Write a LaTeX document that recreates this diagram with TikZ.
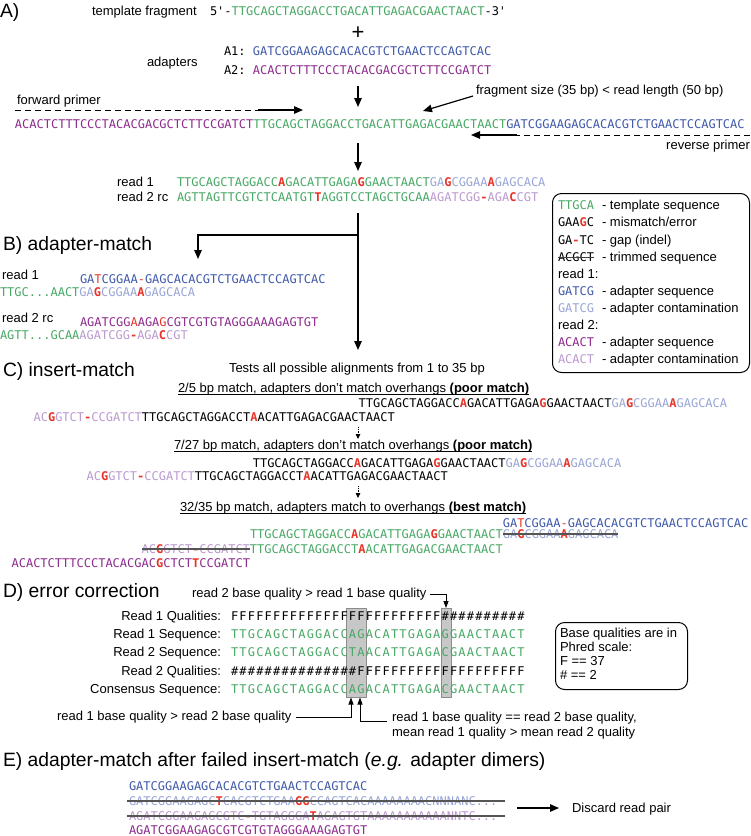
\documentclass[tikz,border=0pt]{standalone}
\usepackage{fontspec}
\setmainfont{Liberation Sans}
\setmonofont{DejaVu Sans Mono}
\newfontfamily\dseqf[LetterSpace=10]{DejaVu Sans Mono}
\usetikzlibrary{arrows.meta}
\definecolor{tg}{RGB}{70,168,100}
\definecolor{ab}{RGB}{62,88,170}
\definecolor{alb}{RGB}{152,164,214}
\definecolor{ap}{RGB}{140,42,140}
\definecolor{alp}{RGB}{186,152,206}
\definecolor{er}{RGB}{232,52,40}
\definecolor{stk}{RGB}{85,85,85}
\newcommand{\Rb}[1]{{\bfseries\color{er}#1}}
\newcommand{\Rn}[1]{{\color{er}#1}}
\begin{document}
\begin{tikzpicture}[x=1pt,y=-1pt,
  seqs/.style={font=\ttfamily\fontsize{12}{14}\selectfont, anchor=base west, inner sep=0pt, outer sep=0pt},
  dseqs/.style={font=\dseqf\fontsize{12}{14}\selectfont, anchor=base west, inner sep=0pt, outer sep=0pt},
  lab/.style={font=\fontsize{13}{15}\selectfont, anchor=base west, inner sep=0pt, outer sep=0pt},
  hdr/.style={font=\fontsize{19.3}{22}\selectfont, anchor=base west, inner sep=0pt, outer sep=0pt},
  arr/.style={draw=black, line width=1.2pt, -{Triangle[length=9pt,width=7.5pt]}},
  darr/.style={draw=black, line width=0.8pt, -{Triangle[length=7pt,width=5pt]}},
  sarr/.style={draw=black, line width=0.8pt, densely dotted, -{Triangle[length=5pt,width=4.5pt]}},
  prim/.style={draw=black, line width=1pt, dash pattern=on 6pt off 4pt},
  strike/.style={draw=stk, line width=1.8pt},
  uline/.style={draw=black, line width=0.8pt},
  lbox/.style={draw=black, line width=1pt, rounded corners=9pt, inner sep=0pt, anchor=north west},
  gbox/.style={draw=black!45, fill=black!22, line width=0.8pt, inner sep=0pt, anchor=north west}
]
\useasboundingbox (0,0) rectangle (751,836);

% ---------------- A ----------------
\node[hdr] (hA) at (0,17) {A)};
\node[lab] (ltf) at (92,15.5) {template fragment};
\node[seqs] (tf) at (210,15.5) {5'-\textcolor{tg}{TTGCAGCTAGGACCTGACATTGAGACGAACTAACT}-3'};
\node[font=\fontsize{22}{22}\selectfont, inner sep=0pt] (plus) at (358,33) {+};
\node[seqs] (a1) at (224,55.5) {A1: \textcolor{ab}{GATCGGAAGAGCACACGTCTGAACTCCAGTCAC}};
\node[lab] (ladp) at (147,66.5) {adapters};
\node[seqs] (a2) at (224,74.5) {A2: \textcolor{ap}{ACACTCTTTCCCTACACGACGCTCTTCCGATCT}};
\coordinate (ar1s) at (358,86);
\coordinate (ar1e) at (358,107);
\draw[arr] (ar1s) -- (ar1e);

\node[lab] (lfp) at (17,104.5) {forward primer};
\coordinate (fp0) at (15,110);
\coordinate (fp1) at (258,110);
\coordinate (fp2) at (303,110);
\draw[prim] (fp0) -- (fp1);
\draw[arr] (fp1) -- (fp2);

\node[lab] (lfs) at (476,94.5) {fragment size (35 bp) < read length (50 bp)};
\coordinate (fs0) at (473,96);
\coordinate (fs1) at (423,111);
\draw[arr] (fs0) -- (fs1);

\node[seqs] (lng) at (15,128.5) {\textcolor{ap}{ACACTCTTTCCCTACACGACGCTCTTCCGATCT}\textcolor{tg}{TTGCAGCTAGGACCTGACATTGAGACGAACTAACT}\textcolor{ab}{GATCGGAAGAGCACACGTCTGAACTCCAGTCAC}};

\coordinate (rp0) at (750,135);
\coordinate (rp1) at (517,135);
\coordinate (rp2) at (471,135);
\draw[prim] (rp0) -- (rp1);
\draw[arr] (rp1) -- (rp2);
\node[lab, anchor=base east] (lrp) at (750,149.5) {reverse primer};

\coordinate (ar2s) at (358,143);
\coordinate (ar2e) at (358,171);
\draw[arr] (ar2s) -- (ar2e);

\node[lab] (lr1) at (117,186.5) {read 1};
\node[lab] (lr2) at (117,201.5) {read 2 rc};
\node[seqs, text=tg] (r1) at (177,186.5) {TTGCAGCTAGGACC\Rb{A}GACATTGAGA\Rb{G}GAACTAACT\textcolor{alb}{GA\Rb{G}CGGAA\Rb{A}GAGCACA}};
\node[seqs, text=tg] (r2) at (177,201.5) {AGTTAGTTCGTCTCAATGT\Rb{T}AGGTCCTAGCTGCAA\textcolor{alp}{AGATCGG\Rb{-}AGA\Rb{C}CGT}};

% ---------------- legend ----------------
\node[lbox, minimum width=197pt, minimum height=179pt] (leg) at (552,193) {};
\node[seqs, text=tg] (k1) at (558,209.5) {TTGCA};
\node[lab] (k1t) at (602,209.5) {- template sequence};
\node[seqs] (k2) at (558,226.5) {GAA\Rb{G}C};
\node[lab] (k2t) at (602,226.5) {- mismatch/error};
\node[seqs] (k3) at (558,244) {GA\Rb{-}TC};
\node[lab] (k3t) at (602,244) {- gap (indel)};
\node[seqs] (k4) at (558,261.5) {ACGCT};
\draw[strike, draw=black!75, line width=1.2pt] ([yshift=4.3pt]k4.base west) -- ([yshift=4.3pt]k4.base east);
\node[lab] (k4t) at (602,261.5) {- trimmed sequence};
\node[lab] (k5) at (558,278.5) {read 1:};
\node[seqs, text=ab] (k6) at (558,295.5) {GATCG};
\node[lab] (k6t) at (602,295.5) {- adapter sequence};
\node[seqs, text=alb] (k7) at (558,312.5) {GATCG};
\node[lab] (k7t) at (602,312.5) {- adapter contamination};
\node[lab] (k8) at (558,329.5) {read 2:};
\node[seqs, text=ap] (k9) at (558,346.5) {ACACT};
\node[lab] (k9t) at (602,346.5) {- adapter sequence};
\node[seqs, text=alp] (k10) at (558,363.5) {ACACT};
\node[lab] (k10t) at (602,363.5) {- adapter contamination};

% ---------------- B ----------------
\coordinate (vb0) at (358,213);
\coordinate (vbr) at (358,235);
\coordinate (vb1) at (358,350);
\coordinate (bl0) at (198,235);
\coordinate (bl1) at (198,259);
\draw[arr] (vb0) -- (vb1);
\draw[arr] (vbr) -- (bl0) -- (bl1);

\node[hdr] (hB) at (3,250) {B) adapter-match};
\node[lab] (lb1) at (2,279) {read 1};
\node[seqs, text=ab] (b1a) at (80,283.5) {GA\Rn{T}CGGAA\Rn{-}GAGCACACGTCTGAACTCCAGTCAC};
\node[seqs, text=tg] (b1r) at (0,296.5) {TTGC...AACT\textcolor{alb}{GA\Rb{G}CGGAA\Rb{A}GAGCACA}};
\node[lab] (lb2) at (2,322.5) {read 2 rc};
\node[seqs, text=ap] (b2a) at (80,326.5) {AGATCGG\Rn{A}AGA\Rn{G}CGTCGTGTAGGGAAAGAGTGT};
\node[seqs, text=tg] (b2r) at (0,339.5) {AGTT...GCAA\textcolor{alp}{AGATCGG\Rb{-}AGA\Rb{C}CGT}};

% ---------------- C ----------------
\node[hdr] (hC) at (3,376) {C) insert-match};
\node[lab] (ltest) at (229,372.5) {Tests all possible alignments from 1 to 35 bp};

\node[lab] (m1) at (178,392.5) {2/5 bp match, adapters don’t match overhangs \textbf{(poor match)}};
\draw[uline] ([yshift=-2pt]m1.base west) -- ([yshift=-2pt]m1.base east);
\node[seqs] (c1a) at (358.7,407.5) {TTGCAGCTAGGACC\Rb{A}GACATTGAGA\Rb{G}GAACTAACT\textcolor{alb}{GA\Rb{G}CGGAA\Rb{A}GAGCACA}};
\node[seqs] (c1b) at (33.6,421.5) {\textcolor{alp}{AC\Rb{G}GTCT\Rb{-}CCGATCT}TTGCAGCTAGGACCT\Rb{A}ACATTGAGACGAACTAACT};
\coordinate (s1a) at (358,427);
\coordinate (s1b) at (358,439);
\draw[sarr] (s1a) -- (s1b);

\node[lab] (m2) at (174,449.5) {7/27 bp match, adapters don’t match overhangs \textbf{(poor match)}};
\draw[uline] ([yshift=-2pt]m2.base west) -- ([yshift=-2pt]m2.base east);
\node[seqs] (c2a) at (252.8,467.5) {TTGCAGCTAGGACC\Rb{A}GACATTGAGA\Rb{G}GAACTAACT\textcolor{alb}{GA\Rb{G}CGGAA\Rb{A}GAGCACA}};
\node[seqs] (c2b) at (86.6,480.5) {\textcolor{alp}{AC\Rb{G}GTCT\Rb{-}CCGATCT}TTGCAGCTAGGACCT\Rb{A}ACATTGAGACGAACTAACT};
\coordinate (s2a) at (358,486);
\coordinate (s2b) at (358,498);
\draw[sarr] (s2a) -- (s2b);

\node[lab] (m3) at (180,511) {32/35 bp match, adapters match to overhangs \textbf{(best match)}};
\draw[uline] ([yshift=-2pt]m3.base west) -- ([yshift=-2pt]m3.base east);
\node[seqs, text=ab] (c3ad) at (502.8,527.5) {GA\Rn{T}CGGAA\Rn{-}GAGCACACGTCTGAACTCCAGTCAC};
\node[seqs, text=tg] (c3r1) at (250,538.5) {TTGCAGCTAGGACC\Rb{A}GACATTGAGA\Rb{G}GAACTAACT};
\node[seqs, text=alb, anchor=base west] (c3r1t) at (c3r1.base east) {GA\Rb{G}CGGAA\Rb{A}GAGCACA};
\draw[strike] ([yshift=4.3pt]c3r1t.base west) -- ([yshift=4.3pt]c3r1t.base east);
\node[seqs, text=alp] (c3r2t) at (141.6,553.5) {AC\Rb{G}GTCT\Rb{-}CCGATCT};
\draw[strike] ([yshift=4.3pt]c3r2t.base west) -- ([yshift=4.3pt]c3r2t.base east);
\node[seqs, text=tg, anchor=base west] (c3r2) at (c3r2t.base east) {TTGCAGCTAGGACCT\Rb{A}ACATTGAGACGAACTAACT};
\node[seqs, text=ap] (c3a2) at (11.6,567.5) {ACACTCTTTCCCTACACGAC\Rb{G}CTCT\Rb{T}CCGATCT};

% ---------------- D ----------------
\node[hdr] (hD) at (3,597) {D) error correction};
\node[gbox, minimum width=20pt, minimum height=89pt] (gb1) at (346,608) {};
\node[gbox, minimum width=9.5pt, minimum height=89pt] (gb2) at (441,608) {};

\node[lab] (dq21) at (192,597.5) {read 2 base quality > read 1 base quality};
\coordinate (d2e) at (446,608);
\draw[darr] ([xshift=3pt]dq21.east) -| (d2e);

\node[lab, anchor=base east] (dl1) at (221,620.5) {Read 1 Qualities:};
\node[dseqs] (ds1) at (231,620.5) {FFFFFFFFFFFFFFFFFFFFFFFFF\#\#\#\#\#\#\#\#\#\#};
\node[lab, anchor=base east] (dl2) at (221,638.7) {Read 1 Sequence:};
\node[dseqs, text=tg] (ds2) at (231,638.7) {TTGCAGCTAGGACCAGACATTGAGAGGAACTAACT};
\node[lab, anchor=base east] (dl3) at (221,656.9) {Read 2 Sequence:};
\node[dseqs, text=tg] (ds3) at (231,656.9) {TTGCAGCTAGGACCTAACATTGAGACGAACTAACT};
\node[lab, anchor=base east] (dl4) at (221,675.1) {Read 2 Qualities:};
\node[dseqs] (ds4) at (231,675.1) {\#\#\#\#\#\#\#\#\#\#\#\#\#\#\#FFFFFFFFFFFFFFFFFFFF};
\node[lab, anchor=base east] (dl5) at (221,693.3) {Consensus Sequence:};
\node[dseqs, text=tg] (ds5) at (231,693.3) {TTGCAGCTAGGACCAGACATTGAGACGAACTAACT};

\node[lbox, minimum width=132pt, minimum height=67pt] (dleg) at (555,622) {};
\node[lab] (dlg1) at (560,637.5) {Base qualities are in};
\node[lab] (dlg2) at (560,651.5) {Phred scale:};
\node[lab] (dlg3) at (560,665.5) {F == 37};
\node[lab] (dlg4) at (560,679.5) {\# == 2};

\node[lab] (dq12) at (57,720.5) {read 1 base quality > read 2 base quality};
\coordinate (d1e) at (351,697.5);
\draw[darr] ([xshift=4pt]dq12.east) -| (d1e);
\node[lab] (dq3) at (392,721.5) {read 1 base quality == read 2 base quality,};
\node[lab] (dq4) at (392,736.5) {mean read 1 quality > mean read 2 quality};
\coordinate (d3s) at (387,721);
\coordinate (d3e) at (360,697.5);
\draw[darr] (d3s) -| (d3e);

% ---------------- E ----------------
\node[hdr] (hE) at (3,766) {E) adapter-match after failed insert-match (\textit{e.g.} adapter dimers)};
\node[seqs, text=ab] (e1) at (129,790.5) {GATCGGAAGAGCACACGTCTGAACTCCAGTCAC};
\node[seqs, text=alb] (e2) at (129,805.5) {GATCGGAAGAGC\Rb{T}CACGTCTGAA\Rb{GG}CCAGTCACAAAAAAAACNNNANC...};
\draw[strike] ([xshift=-2pt,yshift=4.3pt]e2.base west) -- ([xshift=8pt,yshift=4.3pt]e2.base east);
\node[seqs, text=alp] (e3) at (129,820.5) {AGATCGGAAGAGCGTC\Rb{-}TGTAGGGA\Rb{T}AGAGTGTAAAAAAAAAAANNTC...};
\draw[strike] ([xshift=-2pt,yshift=4.3pt]e3.base west) -- ([xshift=8pt,yshift=4.3pt]e3.base east);
\node[seqs, text=ap] (e4) at (129,834.5) {AGATCGGAAGAGCGTCGTGTAGGGAAAGAGTGT};
\coordinate (ea0) at (517,808);
\coordinate (ea1) at (559,808);
\draw[arr] (ea0) -- (ea1);
\node[lab] (disc) at (572,812.5) {Discard read pair};
\end{tikzpicture}
\end{document}
